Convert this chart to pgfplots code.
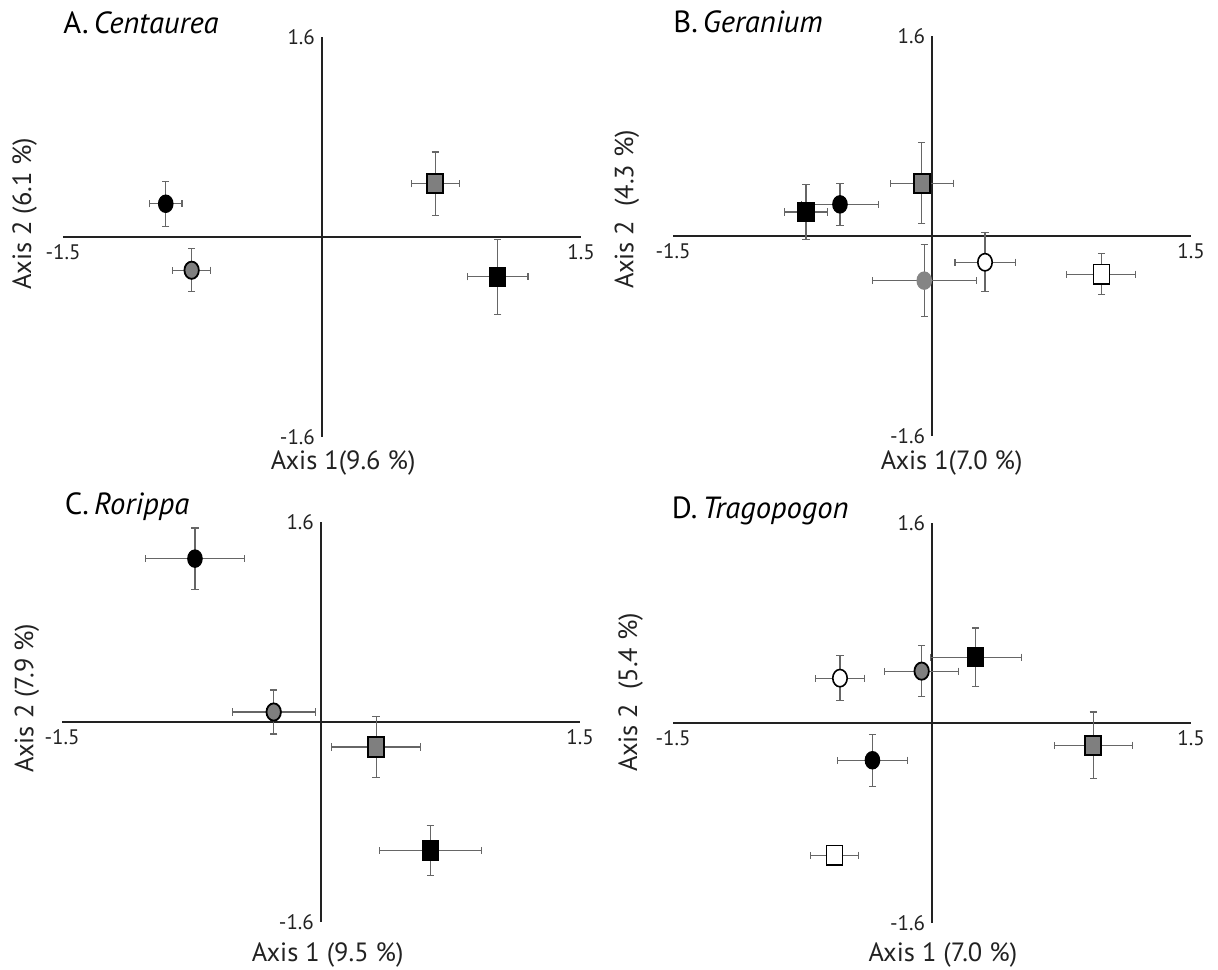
\documentclass[border=0pt]{standalone}
\usepackage{fontspec}
\setmainfont{PT Sans}
\usepackage{pgfplots}
\pgfplotsset{compat=1.18}
\definecolor{mgray}{HTML}{7F7F7F}
\definecolor{lgray}{HTML}{858585}
\definecolor{ebar}{HTML}{666666}
\definecolor{axl}{HTML}{222222}
\tikzset{
  ttl/.style={anchor=west, inner sep=0pt, font=\fontsize{15.3}{17}\selectfont},
  albl/.style={inner sep=0pt, font=\fontsize{13.2}{15}\selectfont, text=axl},
}
\pgfplotsset{
  ord/.style={
    scale only axis, width=259pt, height=200pt,
    axis lines=middle, axis line style={-, line width=0.75pt, color=axl},
    xmin=-1.5, xmax=1.5, ymin=-1.6, ymax=1.6,
    enlargelimits=false, clip=false,
    xtick={-1.5,1.5}, xticklabels={-1.5,1.5},
    ytick={-1.6,1.6}, yticklabels={-1.6,1.6},
    major tick length=0pt,
    tick label style={font=\fontsize{10.5}{12}\selectfont, text=axl},
    anchor=south west,
  },
  eb/.style={only marks,
    error bars/x dir=both, error bars/x explicit,
    error bars/y dir=both, error bars/y explicit,
    error bars/error mark=-,
    error bars/error bar style={ebar, line width=0.55pt},
    error bars/error mark options={rotate=90, ebar, mark size=1.8pt, line width=0.55pt}},
  bc/.style={eb, mark=*, mark size=3.6pt, mark options={draw=black, fill=black, yscale=1.2, line width=0.6pt}},
  gc/.style={eb, mark=*, mark size=3.6pt, mark options={draw=black, fill=mgray, yscale=1.2, line width=0.9pt}},
  gcn/.style={eb, mark=*, mark size=3.6pt, mark options={draw=lgray, fill=lgray, yscale=1.2, line width=0.6pt}},
  wc/.style={eb, mark=*, mark size=3.6pt, mark options={draw=black, fill=white, yscale=1.2, line width=0.8pt}},
  bs/.style={eb, mark=square*, mark size=4pt, mark options={draw=black, fill=black, yscale=1.2, line width=0.6pt}},
  gs/.style={eb, mark=square*, mark size=4pt, mark options={draw=black, fill=mgray, yscale=1.2, line width=1pt}},
  ws/.style={eb, mark=square*, mark size=4pt, mark options={draw=black, fill=white, yscale=1.2, line width=0.8pt}},
}
\begin{document}
\begin{tikzpicture}
\useasboundingbox (0,0) rectangle (609pt,484.5pt);

% A
\begin{axis}[ord, at={(31.5pt,266pt)}]
\addplot[bc] coordinates {(-0.905,0.266) +- (0.094,0.181)};
\addplot[gc] coordinates {(-0.755,-0.266) +- (0.111,0.173)};
\addplot[gs] coordinates {(0.656,0.425) +- (0.140,0.255)};
\addplot[bs] coordinates {(1.018,-0.319) +- (0.175,0.298)};
\node[ttl] at (axis description cs:0.0,1.035) {A.\,\textit{Centaurea}};
\node[albl] at (axis description cs:0.541,-0.065) {Axis 1(9.6 \%)};
\node[albl, rotate=90] at (axis description cs:-0.074,0.559) {Axis 2 (6.1 \%)};
\end{axis}

% B
\begin{axis}[ord, at={(336.5pt,266.5pt)}]
\addplot[bs] coordinates {(-0.730,0.192) +- (0.124,0.220)};
\addplot[bc] coordinates {(-0.533,0.253) +- (0.224,0.168)};
\addplot[gs] coordinates {(-0.060,0.423) +- (0.182,0.326)};
\addplot[gcn] coordinates {(-0.045,-0.357) +- (0.302,0.286)};
\addplot[wc] coordinates {(0.307,-0.210) +- (0.174,0.236)};
\addplot[ws] coordinates {(0.981,-0.306) +- (0.200,0.164)};
\node[ttl] at (axis description cs:0.0,1.035) {B.\,\textit{Geranium}};
\node[albl] at (axis description cs:0.538,-0.067) {Axis 1(7.0 \%)};
\node[albl, rotate=90] at (axis description cs:-0.089,0.567) {Axis 2\ \ (4.3 \%)};
\end{axis}

% C
\begin{axis}[ord, at={(31pt,23.5pt)}]
\addplot[bc] coordinates {(-0.730,1.307) +- (0.286,0.245)};
\addplot[gc] coordinates {(-0.274,0.080) +- (0.240,0.176)};
\addplot[gs] coordinates {(0.319,-0.200) +- (0.256,0.245)};
\addplot[bs] coordinates {(0.633,-1.027) +- (0.296,0.200)};
\node[ttl] at (axis description cs:0.005,1.038) {C.\,\textit{Rorippa}};
\node[albl] at (axis description cs:0.513,-0.083) {Axis 1 (9.5 \%)};
\node[albl, rotate=90] at (axis description cs:-0.068,0.56) {Axis 2 (7.9 \%)};
\end{axis}

% D
\begin{axis}[ord, at={(336.5pt,23pt)}]
\addplot[wc] coordinates {(-0.533,0.359) +- (0.140,0.180)};
\addplot[gc] coordinates {(-0.060,0.415) +- (0.213,0.205)};
\addplot[bs] coordinates {(0.253,0.527) +- (0.263,0.233)};
\addplot[gs] coordinates {(0.934,-0.178) +- (0.227,0.266)};
\addplot[bc] coordinates {(-0.345,-0.298) +- (0.202,0.208)};
\addplot[ws] coordinates {(-0.564,-1.057) +- (0.138,0.080)};
\node[ttl] at (axis description cs:-0.003,1.03) {D.\,\textit{Tragopogon}};
\node[albl] at (axis description cs:0.521,-0.081) {Axis 1 (7.0 \%)};
\node[albl, rotate=90] at (axis description cs:-0.082,0.577) {Axis 2\ \ (5.4 \%)};
\end{axis}
\end{tikzpicture}
\end{document}
